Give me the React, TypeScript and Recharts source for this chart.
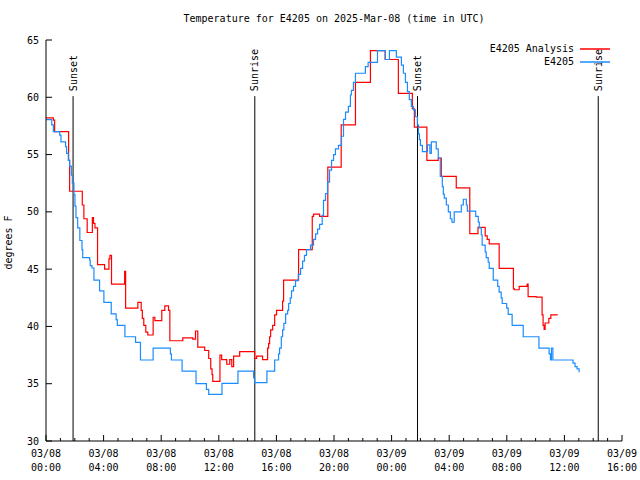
import {
  LineChart,
  Line,
  XAxis,
  YAxis,
  ReferenceLine,
} from 'recharts'

// hours since 03/08 00:00 UTC, temperatures in degrees F
const analysisHours = [
  0, 0.51, 0.6, 1.57, 1.64, 2.52, 2.63, 2.86, 3.22, 3.3, 3.4, 3.58, 4.07, 4.37, 4.44, 4.55,
  5.46, 5.53, 6.38, 6.61, 6.69, 6.79, 6.93, 7.07, 7.44, 7.56, 8.04, 8.25, 8.51, 8.6, 9.5,
  10.19, 10.38, 10.54, 11.02, 11.3, 11.44, 11.53, 11.58, 12.08, 12.2, 12.55, 12.76, 12.9,
  13.03, 13.45, 14.49, 14.63, 15.04, 15.39, 15.46, 15.53, 15.6, 15.74, 15.88, 16.01, 16.43,
  16.5, 17.54, 18.49, 18.58, 19.0, 19.57, 20.5, 21.49, 22.53, 23.55, 24.47, 25.44, 25.58,
  26.45, 27.24, 27.45, 28.49, 29.43, 30.0, 30.5, 30.64, 30.78, 31.47, 32.46, 32.51, 32.86,
  33.41, 33.48, 34.04, 34.45, 34.52, 34.59, 34.66, 34.92, 35.06, 35.54,
]
const analysisTemps = [
  58.2, 58.0, 57.0, 54.5, 51.8, 50.6, 49.4, 48.2, 49.5, 49.0, 48.6, 45.4, 45.0, 45.9, 46.2, 43.7,
  44.8, 41.6, 42.1, 41.4, 40.7, 40.1, 39.5, 39.25, 40.8, 40.5, 41.4, 41.8, 41.4, 38.75, 39.0,
  38.9, 39.6, 38.2, 37.9, 37.2, 36.3, 35.8, 35.2, 37.5, 37.1, 36.7, 37.1, 36.5,
  37.4, 37.8, 37.2, 37.4, 37.1, 38.1, 38.5, 39.1, 39.7, 40.1, 41.0, 41.4, 42.2,
  44.05, 46.7, 49.6, 49.8, 49.6, 53.9, 57.6, 61.3, 64.07, 63.3, 60.35, 59.0, 57.4,
  54.5, 54.7, 53.1, 52.1, 48.1, 48.65, 47.9, 47.6, 47.2, 45.07, 43.3, 43.2, 43.5,
  43.7, 42.6, 42.55, 41.0, 40.1, 39.75, 40.3, 40.7, 41.0, 41.0,
]

const observedHours = [
  0, 0.4, 0.51, 0.95, 1.04, 1.36, 1.43, 1.55, 1.64, 1.76, 1.83, 1.94, 2.01, 2.08, 2.2, 2.35,
  2.5, 2.55, 3.03, 3.07, 3.19, 3.33, 3.72, 4.02, 4.53, 4.87, 4.95, 5.48, 6.22, 6.56, 7.44,
  8.64, 8.71, 9.45, 10.42, 11.14, 11.3, 12.22, 13.33, 14.42, 14.49, 15.34, 15.88, 16.15,
  16.22, 16.34, 16.43, 16.52, 16.64, 16.78, 16.85, 16.96, 17.05, 17.19, 17.33, 17.52, 17.68,
  17.82, 17.95, 18.09, 18.37, 18.58, 18.72, 18.86, 19.0, 19.18, 19.27, 19.41, 19.55, 19.69,
  19.83, 19.97, 20.1, 20.31, 20.52, 20.66, 20.8, 21.0, 21.14, 21.21, 21.35, 21.49, 22.18,
  22.37, 23.02, 23.57, 23.85, 24.33, 24.68, 24.82, 24.96, 25.1, 25.23, 25.37, 25.51, 25.65,
  25.79, 25.86, 25.93, 26.0, 26.14, 26.49, 26.66, 26.76, 27.1, 27.24, 27.38, 27.52, 27.59,
  27.66, 27.8, 27.94, 28.08, 28.19, 28.35, 28.84, 28.98, 29.19, 29.26, 29.84, 30.02, 30.09,
  30.23, 30.29, 30.5, 30.57, 30.71, 30.78, 31.06, 31.37, 31.47, 31.61, 31.68, 31.99, 32.1,
  32.37, 33.14, 34.23, 34.94, 35.03, 35.1, 35.2, 36.6, 36.74, 36.88, 37.02,
]
const observedTemps = [
  58.05, 57.6, 57.0, 56.7, 56.1, 55.7, 55.1, 54.5, 54.0, 53.2, 52.5, 51.5, 50.5, 49.5, 48.6, 47.5,
  46.7, 46.0, 45.8, 45.3, 45.1, 44.05, 43.1, 42.1, 41.1, 40.6, 40.1, 39.1, 38.6, 37.07, 38.1,
  37.6, 37.07, 36.1, 35.0, 34.5, 34.07, 35.03, 36.1, 35.5, 35.1, 36.1, 37.07, 37.6,
  38.1, 39.1, 39.7, 40.27, 41.1, 41.4, 42.0, 42.5, 43.1, 43.5, 44.0, 44.55, 45.07,
  45.7, 46.2, 46.7, 47.1, 47.6, 48.07, 48.5, 48.9, 49.7, 51.0, 51.6, 52.6, 53.65,
  54.5, 55.0, 55.5, 55.8, 56.6, 58.07, 58.7, 59.2, 60.2, 60.6, 61.3, 62.1, 62.67,
  63.05, 64.07, 63.3, 64.07, 63.5, 62.8, 62.1, 61.3, 60.5, 59.8, 59.2, 58.9, 58.3,
  57.6, 56.8, 56.3, 55.8, 55.25, 55.85, 55.1, 56.1, 55.5, 54.7, 53.1, 52.2, 51.55,
  51.2, 50.6, 50.0, 49.4, 49.1, 50.0, 50.6, 51.1, 50.6, 50.07, 49.6, 49.1, 48.6,
  48.0, 47.1, 46.5, 46.0, 45.6, 45.07, 44.05, 43.5, 43.0, 42.5, 42.0, 41.6, 41.06,
  40.1, 39.1, 38.1, 37.6, 37.07, 38.1, 37.07, 36.8, 36.5, 36.3, 36.0,
]

const seriesNames = ['E4205 Analysis', 'E4205']
const seriesColors = ['#ff0000', '#1a8cff']

const sunHours = [1.88, 14.5, 25.8, 38.35]
const sunLabels = ['Sunset', 'Sunrise', 'Sunset', 'Sunrise']

const hourTicks = Array.from({ length: 41 }, (_, i) => i)
const tempTicks = [30, 35, 40, 45, 50, 55, 60, 65]

const FONT = '"DejaVu Sans Mono", monospace'

const analysisData = analysisHours.map((t, i) => ({ t, v: analysisTemps[i] }))
const observedData = observedHours.map((t, i) => ({ t, v: observedTemps[i] }))

function pad(n: number) {
  return n < 10 ? `0${n}` : `${n}`
}

function BottomTick({ x, y, payload }: any) {
  const v = payload.value
  const major = v % 4 === 0
  return (
    <g>
      <line x1={x} y1={y} x2={x} y2={y - (major ? 6 : 3)} stroke='#000' />
      {major && (
        <text x={x} textAnchor='middle' fontFamily={FONT} fontSize={10} fill='#000'>
          <tspan x={x} y={y + 16}>{v < 24 ? '03/08' : '03/09'}</tspan>
          <tspan x={x} y={y + 30}>{`${pad(v % 24)}:00`}</tspan>
        </text>
      )}
    </g>
  )
}

function TopTick({ x, y, payload }: any) {
  const major = payload.value % 4 === 0
  return <line x1={x} y1={y} x2={x} y2={y + (major ? 6 : 3)} stroke='#000' />
}

function LeftTick({ x, y, payload }: any) {
  return (
    <g>
      <line x1={x} y1={y} x2={x + 6} y2={y} stroke='#000' />
      <text
        x={x - 7}
        y={y}
        textAnchor='end'
        dominantBaseline='central'
        fontFamily={FONT}
        fontSize={10}
        fill='#000'
      >
        {payload.value}
      </text>
    </g>
  )
}

function RightTick({ x, y }: any) {
  return <line x1={x} y1={y} x2={x - 6} y2={y} stroke='#000' />
}

function SunLabel({ viewBox, text }: any) {
  const x = viewBox.x
  const y = viewBox.y - 5
  return (
    <text
      transform={`translate(${x},${y}) rotate(-90)`}
      textAnchor='start'
      dominantBaseline='central'
      fontFamily={FONT}
      fontSize={10}
      fill='#000'
    >
      {text}
    </text>
  )
}

function YTitle({ viewBox }: any) {
  const x = viewBox.x + 2
  const y = viewBox.y + viewBox.height / 2 + 2
  return (
    <text
      transform={`translate(${x},${y}) rotate(-90)`}
      textAnchor='middle'
      dominantBaseline='central'
      fontFamily={FONT}
      fontSize={10}
      fill='#000'
    >
      degrees F
    </text>
  )
}

export default function App() {
  return (
    <div style={{ position: 'absolute', left: 0, top: 0, width: 640, height: 480, background: '#fff' }}>
      <div
        style={{
          position: 'absolute',
          left: 46,
          top: 13,
          width: 576,
          textAlign: 'center',
          fontFamily: FONT,
          fontSize: 10,
          lineHeight: '12px',
        }}
      >
        Temperature for E4205 on 2025-Mar-08 (time in UTC)
      </div>
      <LineChart width={640} height={480} margin={{ top: 40, right: 18, bottom: 9, left: 6 }}>
        <XAxis
          dataKey='t'
          type='number'
          domain={[0, 40]}
          ticks={hourTicks}
          interval={0}
          height={30}
          tickSize={0}
          tickMargin={0}
          tickLine={false}
          axisLine={{ stroke: '#000' }}
          tick={<BottomTick />}
        />
        <XAxis
          xAxisId='top'
          orientation='top'
          dataKey='t'
          type='number'
          domain={[0, 40]}
          ticks={hourTicks}
          interval={0}
          height={0}
          tickSize={0}
          tickMargin={0}
          tickLine={false}
          axisLine={{ stroke: '#000' }}
          tick={<TopTick />}
        />
        <YAxis
          type='number'
          domain={[30, 65]}
          ticks={tempTicks}
          interval={0}
          width={40}
          tickSize={0}
          tickMargin={0}
          tickLine={false}
          axisLine={{ stroke: '#000' }}
          tick={<LeftTick />}
          label={<YTitle />}
        />
        <YAxis
          yAxisId='right'
          orientation='right'
          type='number'
          domain={[30, 65]}
          ticks={tempTicks}
          interval={0}
          width={0}
          tickSize={0}
          tickMargin={0}
          tickLine={false}
          axisLine={{ stroke: '#000' }}
          tick={<RightTick />}
        />
        {sunHours.map((h, i) => (
          <ReferenceLine
            key={i}
            segment={[
              { x: h, y: 60.1 },
              { x: h, y: 30 },
            ]}
            stroke='#000'
            strokeWidth={1}
            label={<SunLabel text={sunLabels[i]} />}
          />
        ))}
        <Line
          data={analysisData}
          dataKey='v'
          name={seriesNames[0]}
          type='stepAfter'
          stroke={seriesColors[0]}
          strokeWidth={1.2}
          dot={false}
          isAnimationActive={false}
        />
        <Line
          data={observedData}
          dataKey='v'
          name={seriesNames[1]}
          type='stepAfter'
          stroke={seriesColors[1]}
          strokeWidth={1.2}
          dot={false}
          isAnimationActive={false}
        />
      </LineChart>
      {seriesNames.map((name, i) => (
        <div
          key={name}
          style={{
            position: 'absolute',
            top: 43 + i * 13,
            right: 30,
            display: 'flex',
            alignItems: 'center',
            fontFamily: FONT,
            fontSize: 10,
            lineHeight: '12px',
          }}
        >
          <span>{name}</span>
          <svg width={36} height={4} style={{ display: 'block' }}>
            <line x1={6} y1={2} x2={36} y2={2} stroke={seriesColors[i]} strokeWidth={1.5} />
          </svg>
        </div>
      ))}
    </div>
  )
}
